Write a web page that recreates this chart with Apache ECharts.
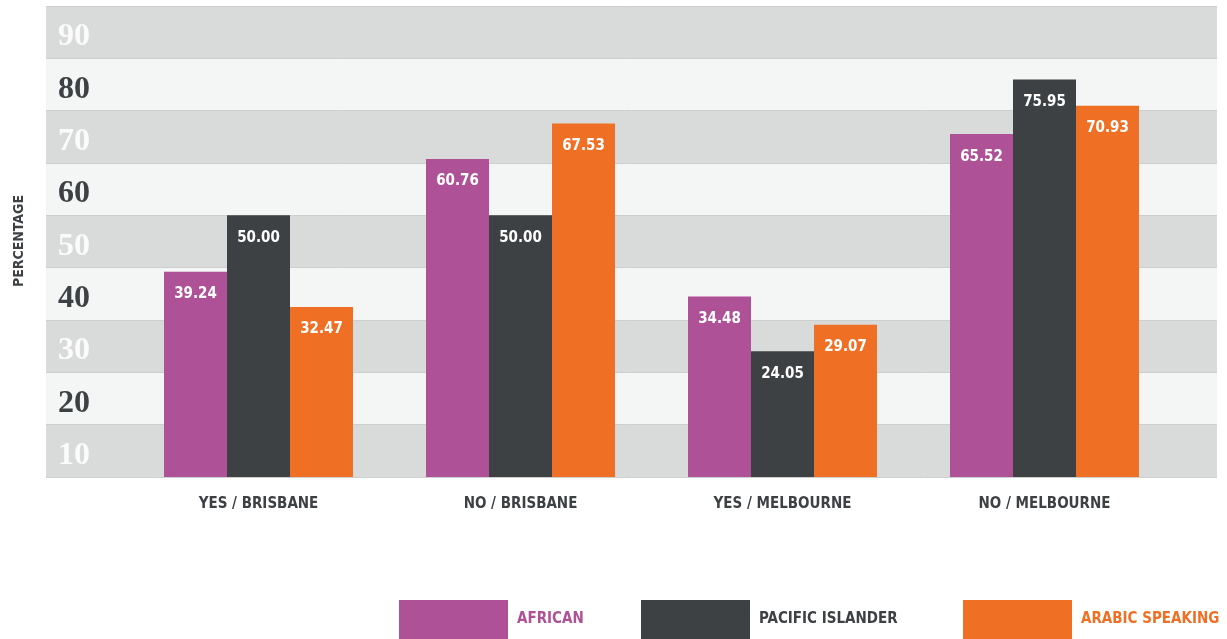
<!DOCTYPE html>
<html>
<head>
<meta charset="utf-8">
<script src="https://cdn.jsdelivr.net/npm/echarts@6/dist/echarts.min.js"></script>
<style>
  html, body { margin: 0; padding: 0; background: #ffffff; }
  #chart { width: 1227px; height: 639px; }
</style>
</head>
<body>
<div id="chart"></div>
<script>
const categories = ['YES / BRISBANE', 'NO / BRISBANE', 'YES / MELBOURNE', 'NO / MELBOURNE'];
const african = [39.24, 60.76, 34.48, 65.52];
const pacificIslander = [50.00, 50.00, 24.05, 75.95];
const arabicSpeaking = [32.47, 67.53, 29.07, 70.93];
const bandLabels = ['10', '20', '30', '40', '50', '60', '70', '80', '90'];

const seriesNames = ['AFRICAN', 'PACIFIC ISLANDER', 'ARABIC SPEAKING'];
const colors = ['#ae5196', '#3d4144', '#ef7025'];
const narrow = "'Liberation Sans Narrow', 'DejaVu Sans Condensed', sans-serif";

const chartDom = document.getElementById('chart');
const myChart = echarts.init(chartDom);

function barSeries(name, data, color) {
    return {
        name: name,
        type: 'bar',
        xAxisIndex: 1,
        yAxisIndex: 1,
        data: data,
        barWidth: 63,
        barGap: '0%',
        itemStyle: { color: color },
        label: {
            show: true,
            position: 'insideTop',
            distance: 15,
            color: '#ffffff',
            fontFamily: narrow,
            fontWeight: 'bold',
            fontSize: 15,
            formatter: p => p.value.toFixed(2)
        }
    };
}

const legendLefts = [399, 641, 963];

const option = {
    animation: false,
    grid: [
        { left: 46, right: 10, top: 6, bottom: 162 },
        { left: 127.5, right: 51.5, top: 6, bottom: 162 }
    ],
    xAxis: [
        { gridIndex: 0, type: 'value', min: 0, max: 1, show: false },
        {
            gridIndex: 1,
            type: 'category',
            data: categories,
            axisLine: { show: false },
            axisTick: { show: false },
            axisLabel: {
                margin: 20,
                color: '#3d4144',
                fontFamily: narrow,
                fontWeight: 'bold',
                fontSize: 15
            }
        }
    ],
    yAxis: [
        {
            gridIndex: 0,
            type: 'category',
            data: bandLabels,
            boundaryGap: true,
            axisLine: { show: false },
            axisTick: { show: false },
            splitArea: { show: true, areaStyle: { color: ['#d9dada', '#f4f5f5'] } },
            splitLine: { show: true, lineStyle: { color: '#cdcfcf', width: 1 } },
            axisLabel: {
                inside: true,
                margin: 12,
                verticalAlign: 'top',
                lineHeight: 10,
                fontFamily: "'Liberation Serif', 'DejaVu Serif', serif",
                fontWeight: 'bold',
                fontSize: 32,
                color: (value, index) => (index % 2 === 0 ? '#fbfbfb' : '#3d4144')
            },
            z: 0
        },
        { gridIndex: 1, type: 'value', min: 0, max: 90, interval: 10, show: false }
    ],
    legend: legendLefts.map((left, i) => ({
        left: left,
        top: 600,
        padding: 0,
        itemWidth: 109,
        itemHeight: 39,
        icon: 'rect',
        data: [{ name: seriesNames[i], textStyle: { color: colors[i] } }],
        textStyle: {
            fontFamily: narrow,
            fontWeight: 'bold',
            fontSize: 15,
            verticalAlign: 'top',
            lineHeight: 4,
            padding: [0, 0, 0, 4]
        }
    })),
    graphic: [{
        type: 'text',
        x: 19,
        y: 241,
        rotation: Math.PI / 2,
        style: {
            text: 'PERCENTAGE',
            fill: '#3d4144',
            font: "bold 14px 'Liberation Sans Narrow', 'DejaVu Sans Condensed', sans-serif",
            textAlign: 'center',
            textVerticalAlign: 'middle'
        }
    }],
    series: [
        barSeries(seriesNames[0], african, colors[0]),
        barSeries(seriesNames[1], pacificIslander, colors[1]),
        barSeries(seriesNames[2], arabicSpeaking, colors[2])
    ]
};

myChart.setOption(option);
</script>
</body>
</html>
